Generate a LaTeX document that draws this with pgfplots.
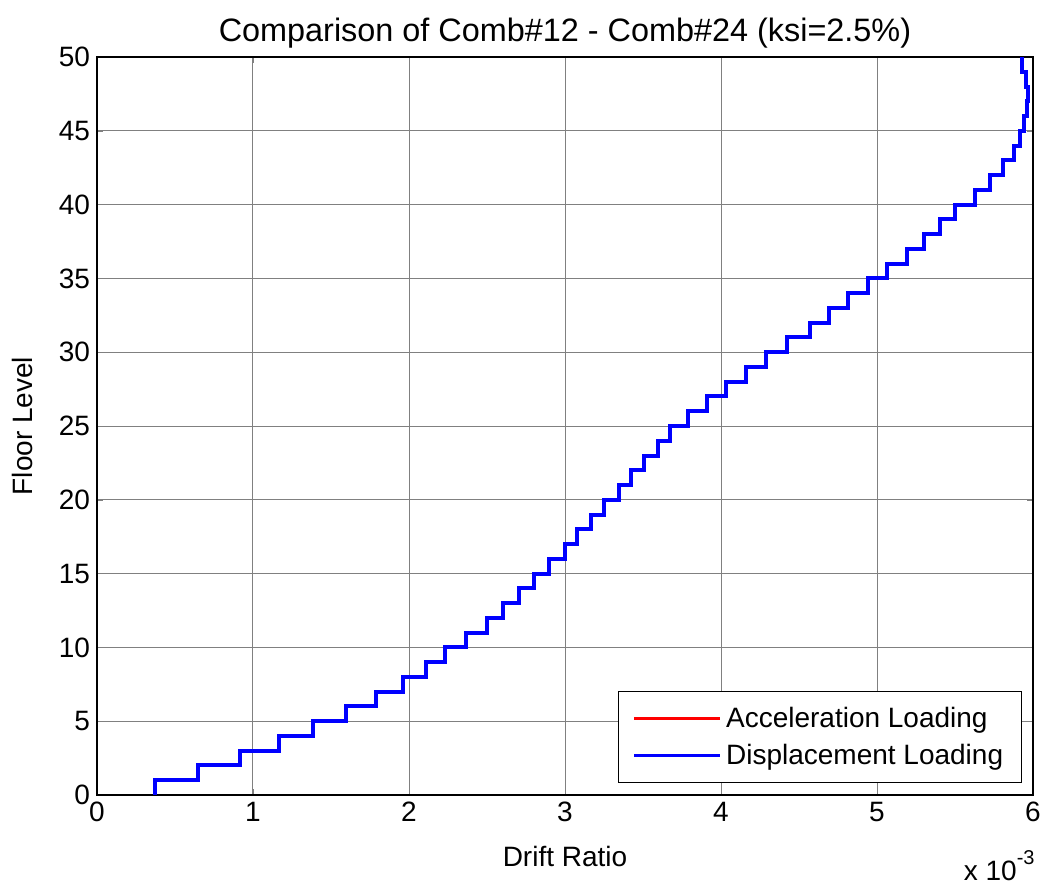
\documentclass[border=0pt]{standalone}
\usepackage{pgfplots}
\usepackage{pgfplotstable}
\pgfplotsset{compat=1.18}
\usepackage{fontspec}
\setmainfont{Liberation Sans}

% interstory drift per storey: drift value of the storey below each floor line
\pgfplotstableread{
drift     floor
0.000371  0
0.000646  1
0.000914  2
0.001167  3
0.001386  4
0.001594  5
0.001788  6
0.001959  7
0.002112  8
0.002233  9
0.002368  10
0.002497  11
0.002604  12
0.002705  13
0.002801  14
0.002900  15
0.003001  16
0.003080  17
0.003166  18
0.003248  19
0.003344  20
0.003425  21
0.003509  22
0.003595  23
0.003676  24
0.003788  25
0.003912  26
0.004030  27
0.004160  28
0.004287  29
0.004426  30
0.004568  31
0.004690  32
0.004817  33
0.004941  34
0.005065  35
0.005192  36
0.005301  37
0.005406  38
0.005502  39
0.005627  40
0.005723  41
0.005809  42
0.005880  43
0.005916  44
0.005944  45
0.005959  46
0.005970  47
0.005955  48
0.005931  49
0.005931  50
}\drifttable

\begin{document}
\begin{tikzpicture}[font=\fontsize{14}{17}\selectfont]
\begin{axis}[
    name=ax,
    scale only axis,
    width=468pt, height=369pt,
    xmin=0, xmax=0.006,
    ymin=0, ymax=50,
    xtick={0,0.001,0.002,0.003,0.004,0.005,0.006},
    xticklabels={0,1,2,3,4,5,6},
    scaled x ticks=false,
    ytick={0,5,...,50},
    /pgf/number format/assume math mode=true,
    tick align=inside,
    major tick length=3pt,
    axis line style={line width=0.6pt},
    grid=major,
    major grid style={black!50, line width=0.5pt},
    title={Comparison of Comb\#12 - Comb\#24 (ksi=2.5\%)},
    title style={at={(axis description cs:0.5,1.0054)}, anchor=base, inner sep=0pt,
        font=\fontsize{16.2}{19}\selectfont},
    xlabel={Drift Ratio},
    xlabel style={at={(axis description cs:0.5,-0.0962)}, anchor=base, inner sep=0pt},
    ylabel={Floor Level},
    ylabel style={at={(axis description cs:-0.0684,0.5)}, anchor=base, inner sep=0pt},
    legend style={at={(axis description cs:0.988,0.0163)}, anchor=south east,
        draw=black, line width=0.6pt, inner xsep=7pt, inner ysep=5.5pt,
        row sep=3pt, font=\fontsize{14}{17}\selectfont},
    legend cell align=left,
    legend image code/.code={\draw[#1, line width=1.7pt] (0pt,0pt) -- (43pt,0pt);},
]
\addplot[red, line width=2pt, const plot mark right] table[x=drift, y=floor] {\drifttable};
\addlegendentry{Acceleration Loading}
\addplot[blue, line width=2pt, const plot mark right] table[x=drift, y=floor] {\drifttable};
\addlegendentry{Displacement Loading}
\end{axis}
\node[anchor=base east, inner sep=0pt] at ([shift={(1pt,-42.5pt)}]ax.south east)
    {x 10\raisebox{0.55em}{\fontsize{10}{12}\selectfont -3}};
\path ([shift={(-48.5pt,-47pt)}]ax.south west) rectangle ([shift={(8.5pt,28.5pt)}]ax.north east);
\end{tikzpicture}
\end{document}
